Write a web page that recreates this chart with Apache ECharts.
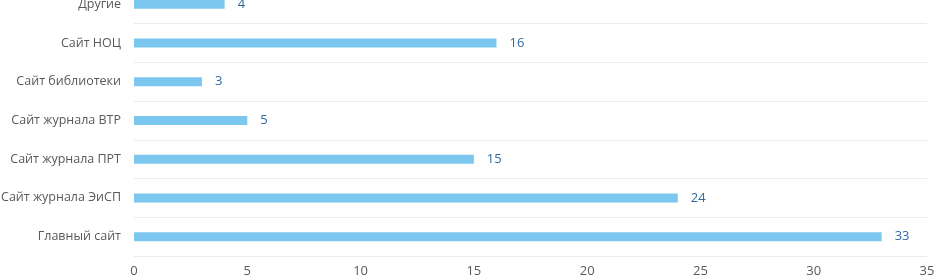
<!DOCTYPE html>
<html>
<head>
<meta charset="utf-8">
<script src="https://cdn.jsdelivr.net/npm/echarts@6/dist/echarts.min.js"></script>
<style>
  html, body { margin: 0; padding: 0; background: #fff; }
  #chart { width: 937px; height: 278px; }
</style>
</head>
<body>
<div id="chart"></div>
<script>
// categories listed bottom to top
const categories = [
  "Главный сайт",
  "Сайт журнала ЭиСП",
  "Сайт журнала ПРТ",
  "Сайт журнала ВТР",
  "Сайт библиотеки",
  "Сайт НОЦ",
  "Другие"
];
const values = [33, 24, 15, 5, 3, 16, 4];
const xTicks = [0, 5, 10, 15, 20, 25, 30, 35];

const chart = echarts.init(document.getElementById("chart"));

chart.setOption({
  animation: false,
  grid: {
    left: 134, right: 10, top: -15, bottom: 22,
    containLabel: false,
    outerBoundsMode: "none"
  },
  xAxis: {
    type: "value",
    min: xTicks[0],
    max: xTicks[xTicks.length - 1],
    interval: 5,
    axisLine: { show: false },
    axisTick: { show: false },
    splitLine: { show: false },
    axisLabel: { color: "#595959", fontFamily: "Open Sans", fontSize: 13, margin: 9 }
  },
  yAxis: {
    type: "category",
    data: categories,
    axisLine: { show: false },
    axisTick: { show: false },
    splitLine: { show: true, lineStyle: { color: "#ececec", width: 1 } },
    axisLabel: { color: "#595959", fontFamily: "Open Sans", fontSize: 12.5, margin: 13 }
  },
  series: [{
    type: "bar",
    data: values,
    barWidth: 9,
    itemStyle: { color: "#7cc7ef" },
    label: {
      show: true,
      position: "right",
      distance: 13,
      color: "#2e6aa0",
      fontFamily: "Open Sans",
      fontSize: 13
    }
  }]
});
</script>
</body>
</html>
